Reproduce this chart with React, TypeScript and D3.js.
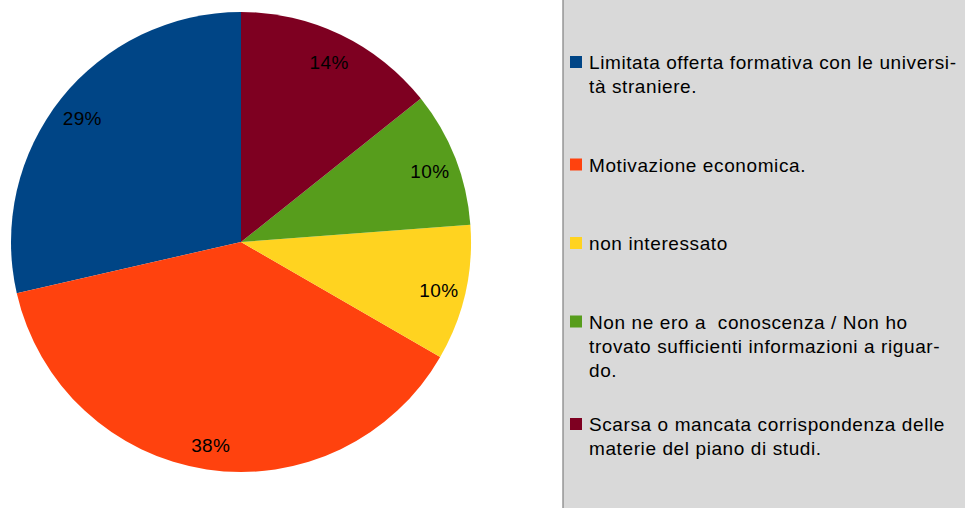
import * as d3 from "d3";

// data (21 answers)
const categories = [
  "Limitata offerta formativa con le universi-\ntà straniere.\n",
  "Motivazione economica.\n",
  "non interessato\n",
  "Non ne ero a  conoscenza / Non ho\ntrovato sufficienti informazioni a riguar-\ndo.",
  "Scarsa o mancata corrispondenza delle\nmaterie del piano di studi.",
];
const counts = [6, 8, 2, 2, 3];
const colors = ["#004586", "#ff420e", "#ffd320", "#579d1c", "#7e0021"];

const width = 965;
const height = 508;
const cx = 241;
const cy = 242;
const radius = 230;
const labelRadius = 203;

const legendX = 563;
const legendFirstBaseline = 69;
const lineH = 24;
const entryGap = 30.5;
const font = "Liberation Sans, Arial, sans-serif";

export default function App() {
  const total = d3.sum(counts);
  const pie = d3
    .pie<number>()
    .sort(null)
    .startAngle(0)
    .endAngle(-2 * Math.PI)(counts);
  const arc = d3.arc<d3.PieArcDatum<number>>().innerRadius(0).outerRadius(radius);
  const labelArc = d3
    .arc<d3.PieArcDatum<number>>()
    .innerRadius(labelRadius)
    .outerRadius(labelRadius);

  // stack the legend entries, each advance = lines * lineH + gap
  let y = legendFirstBaseline;
  const entries = categories.map((c, i) => {
    const lines = c.split("\n");
    const e = { lines, y, color: colors[i] };
    y += lines.length * lineH + entryGap;
    return e;
  });

  return (
    <svg
      width={width}
      height={height}
      style={{ position: "absolute", left: 0, top: 0, fontFamily: font }}
    >
      <rect width={width} height={height} fill="#fff" />
      <g transform={`translate(${cx},${cy})`}>
        {pie.map((d, i) => (
          <path key={i} d={arc(d) || ""} fill={colors[i]} />
        ))}
        {pie.map((d, i) => {
          const [x, yy] = labelArc.centroid(d);
          return (
            <text
              key={i}
              x={x}
              y={yy + 3}
              dy="0.35em"
              textAnchor="middle"
              fontSize={19}
              letterSpacing={0.4}
              fill="#000"
            >
              {Math.round((d.value / total) * 100)}%
            </text>
          );
        })}
      </g>
      <rect
        x={legendX}
        y={-2}
        width={width - legendX + 2}
        height={height + 4}
        fill="#d9d9d9"
        stroke="#808080"
        strokeWidth={1.2}
      />
      {entries.map((e, i) => (
        <g key={i}>
          <rect x={570} y={e.y - 13} width={12} height={12} fill={e.color} />
          <text x={589} y={e.y} fontSize={19} letterSpacing={0.6} fill="#000">
            {e.lines.map((l, j) => (
              <tspan key={j} x={589} y={e.y + j * lineH} style={{ whiteSpace: "pre" }}>
                {l}
              </tspan>
            ))}
          </text>
        </g>
      ))}
    </svg>
  );
}
